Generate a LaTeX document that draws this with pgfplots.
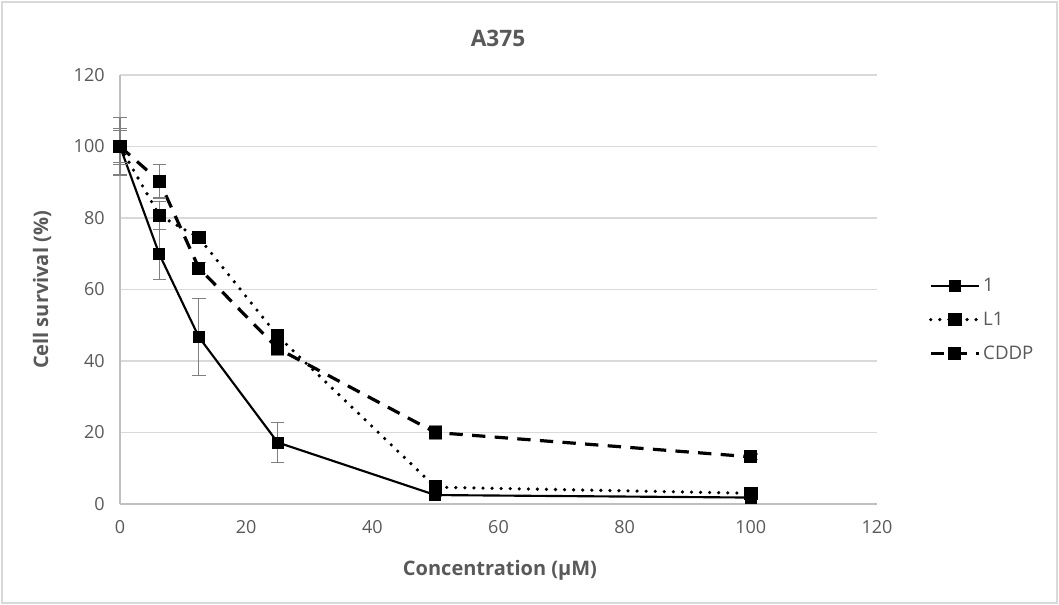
\documentclass[border=0pt]{standalone}
\usepackage{pgfplots}
\pgfplotsset{compat=1.18}
\usepackage{fontspec}
\setmainfont{Open Sans}
\definecolor{txt}{HTML}{595959}
\definecolor{gridc}{HTML}{D9D9D9}
\definecolor{axc}{HTML}{BFBFBF}
\definecolor{errc}{HTML}{7F7F7F}

% x, mean, error
\pgfplotstableread{
x     y     e
0     100   8
6.25  69.8  7
12.5  46.7  10.7
25    17.2  5.6
50    2.5   0.5
100   1.8   0.3
}\compone
\pgfplotstableread{
x     y     e
0     100   4.5
6.25  80.7  4
12.5  74.5  1
25    47.0  1.5
50    4.7   0.5
100   3.0   0.4
}\ligand
\pgfplotstableread{
x     y     e
0     100   5
6.25  90.3  4.7
12.5  66.0  1.5
25    43.5  2
50    20.0  2
100   13.2  0.8
}\cddp

\begin{document}
\begin{tikzpicture}
\useasboundingbox (0,0) rectangle (794.25pt,453.75pt);
\draw[gridc, line width=1pt] (1.5pt,1.5pt) rectangle (792.75pt,452.25pt);
\begin{axis}[
  at={(90pt,75.75pt)}, anchor=south west,
  scale only axis, width=567.75pt, height=321.75pt,
  xmin=0, xmax=120, ymin=0, ymax=120,
  xtick={0,20,...,120}, ytick={0,20,...,120},
  axis x line*=bottom, axis y line*=left,
  axis line style={axc, line width=1pt, -},
  major tick length=0pt,
  ymajorgrids, grid style={gridc, line width=1pt},
  /pgf/number format/assume math mode=true,
  ticklabel style={font=\fontsize{13.5}{16}\selectfont, text=txt},
  xticklabel style={yshift=-9pt},
  yticklabel style={xshift=-8pt},
  clip=false,
  error bars/y dir=both, error bars/y explicit,
  error bars/error bar style={errc, line width=0.9pt, solid},
  error bars/error mark options={rotate=90, errc, mark size=5pt, line width=0.9pt},
  legend style={at={(1.063,0.54)}, anchor=north west, draw=none, fill=none,
    font=\fontsize{14}{17}\selectfont, text=txt, row sep=10pt},
  legend cell align=left,
  legend image code/.code={
    \draw[#1] (0pt,0pt) -- (36pt,0pt);
    \draw[#1, solid] plot[mark=square*] coordinates {(18pt,0pt)};
  },
]
\addplot[black, line width=1.6pt, mark=square*, mark size=3.7pt, mark options={solid}]
  table[x=x, y=y, y error=e] {\compone};
\addlegendentry{1}
\addplot[black, line width=2.7pt, line cap=round, dash pattern=on 0pt off 6.8pt, mark=square*, mark size=3.7pt, mark options={solid}]
  table[x=x, y=y, y error=e] {\ligand};
\addlegendentry{L1}
\addplot[black, line width=2.4pt, dash pattern=on 10pt off 7pt, mark=square*, mark size=3.7pt, mark options={solid}]
  table[x=x, y=y, y error=e] {\cddp};
\addlegendentry{CDDP}
\end{axis}
\node[text=txt, font=\bfseries\fontsize{17}{20}\selectfont] at (373.5pt,425.25pt) {A375};
\node[text=txt, font=\bfseries\fontsize{15}{18}\selectfont, rotate=90] at (31.5pt,236.25pt) {Cell survival (\%)};
\node[text=txt, font=\bfseries\fontsize{15}{18}\selectfont] at (375pt,26.25pt) {Concentration (µM)};
\end{tikzpicture}
\end{document}
